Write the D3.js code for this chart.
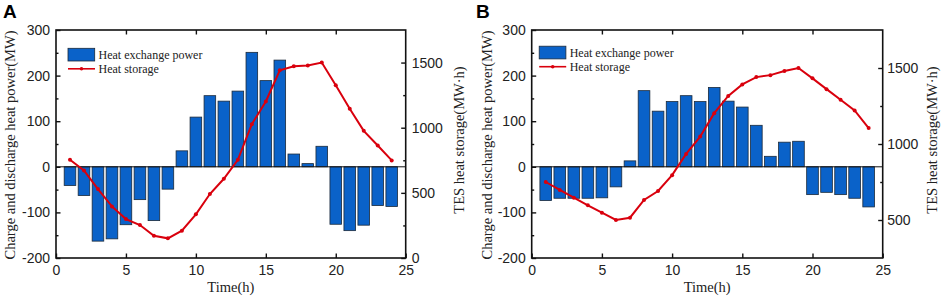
<!DOCTYPE html>
<html lang="en">
<head>
  <meta charset="UTF-8">
  <title>Heat exchange power and TES heat storage</title>
  <script src="https://d3js.org/d3.v7.min.js"></script>
  <style>
    body {
      margin: 0;
      background: #fff;
    }
    svg {
      display: block;
      font-family: "Times New Roman", "Liberation Serif", serif;
    }
    .tick text {
      font-size: 14px;
      fill: #222;
    }
  </style>
</head>
<body>
  <svg id="chart" width="941" height="299"></svg>

  <script>
    const svg = d3.select("#chart");

    // hours of the day
    const hours = [1, 2, 3, 4, 5, 6, 7, 8, 9, 10, 11, 12, 13, 14, 15, 16, 17, 18, 19, 20, 21, 22, 23, 24];

    // panel A
    const powerA = [-41, -63, -163, -158, -127, -72, -118, -49, 35, 109, 156, 144, 166, 251, 189, 234,
                    28, 7, 45, -126, -140, -128, -85, -87];
    const storageA = [754, 672, 529, 396, 299, 253, 171, 151, 210, 335, 491, 608, 754, 1027, 1201, 1441,
                      1472, 1477, 1500, 1326, 1145, 976, 864, 749];

    // panel B
    const powerB = [-74, -69, -69, -69, -68, -44, 13, 167, 122, 143, 156, 143, 174, 144, 131, 91,
                    23, 54, 56, -61, -56, -61, -69, -88];
    const storageB = [750, 698, 647, 597, 548, 500, 515, 632, 691, 795, 935, 1049, 1203, 1316, 1392, 1440,
                      1453, 1480, 1500, 1432, 1361, 1291, 1221, 1105];

    // axis ticks
    const timeTicks = [0, 5, 10, 15, 20, 25];
    const powerTicks = [-200, -100, 0, 100, 200, 300];
    const powerMinor = [-150, -50, 50, 150, 250];
    const storageTicksA = [0, 500, 1000, 1500];
    const storageMinorA = [250, 750, 1250];
    const storageTicksB = [500, 1000, 1500];
    const storageMinorB = [750, 1250];

    const legendNames = ["Heat exchange power", "Heat storage"];

    const barColor = "#0a62c9";
    const lineColor = "#d9000d";
    const plotTop = 30, plotBottom = 258;

    function drawPanel(p) {
      const g = svg.append("g");
      const x = d3.scaleLinear().domain([0, 25]).range([p.left, p.right]);
      const y = d3.scaleLinear().domain([-200, 300]).range([plotBottom, plotTop]);
      const y2 = d3.scaleLinear().domain(p.storageDomain).range([plotBottom, plotTop]);

      // bars
      const bw = (x(1) - x(0)) * 0.83;
      g.append("g")
        .selectAll("rect")
        .data(hours)
        .enter().append("rect")
        .attr("x", (h) => x(h) - bw / 2)
        .attr("width", bw)
        .attr("y", (h, i) => Math.min(y(0), y(p.power[i])))
        .attr("height", (h, i) => Math.abs(y(p.power[i]) - y(0)))
        .attr("fill", barColor)
        .attr("stroke", "#1b2a3a")
        .attr("stroke-width", 0.8);

      // zero line
      g.append("line")
        .attr("x1", p.left).attr("x2", p.right)
        .attr("y1", y(0)).attr("y2", y(0))
        .attr("stroke", "#111")
        .attr("stroke-width", 1);

      // storage line
      const line = d3.line()
        .x((h) => x(h))
        .y((h, i) => y2(p.storage[i]));
      g.append("path")
        .datum(hours)
        .attr("d", line)
        .attr("fill", "none")
        .attr("stroke", lineColor)
        .attr("stroke-width", 2);
      g.append("g")
        .selectAll("circle")
        .data(hours)
        .enter().append("circle")
        .attr("cx", (h) => x(h))
        .attr("cy", (h, i) => y2(p.storage[i]))
        .attr("r", 2)
        .attr("fill", lineColor);

      // axes, ticks pointing inwards
      const fmt = (d) => (d < 0 ? "-" : "") + Math.abs(d);
      const axes = [
        [d3.axisBottom(x).tickValues(timeTicks).tickFormat(fmt).tickSize(-4.5).tickPadding(7), `translate(0,${plotBottom})`],
        [d3.axisTop(x).tickValues(timeTicks.slice(1, -1)).tickFormat("").tickSize(-4.5), `translate(0,${plotTop})`],
        [d3.axisLeft(y).tickValues(powerTicks).tickFormat(fmt).tickSize(-4.5).tickPadding(6), `translate(${p.left},0)`],
        [d3.axisLeft(y).tickValues(powerMinor).tickFormat("").tickSize(-2.5), `translate(${p.left},0)`],
        [d3.axisRight(y2).tickValues(p.storageTicks).tickFormat(fmt).tickSize(-4.5).tickPadding(p.rightPad), `translate(${p.right},0)`],
        [d3.axisRight(y2).tickValues(p.storageMinor).tickFormat("").tickSize(-2.5), `translate(${p.right},0)`]
      ];
      axes.forEach(([ax, tr]) => {
        const a = g.append("g").attr("transform", tr).call(ax.tickSizeOuter(0));
        a.select(".domain").remove();
        a.selectAll(".tick line").attr("stroke", "#111").attr("stroke-width", 1.4);
        a.selectAll(".tick text").attr("font-family", null).attr("font-size", null);
      });

      // frame
      g.append("rect")
        .attr("x", p.left).attr("y", plotTop)
        .attr("width", p.right - p.left).attr("height", plotBottom - plotTop)
        .attr("fill", "none")
        .attr("stroke", "#111")
        .attr("stroke-width", 1.6);

      // titles
      g.append("text")
        .attr("x", (p.left + p.right) / 2).attr("y", 292)
        .attr("text-anchor", "middle")
        .attr("font-size", 14.5).attr("fill", "#222")
        .text("Time(h)");
      g.append("text")
        .attr("transform", `translate(${p.leftTitle},${(plotTop + plotBottom) / 2 + 1}) rotate(-90)`)
        .attr("text-anchor", "middle")
        .attr("font-size", 14.5).attr("fill", "#222")
        .text("Charge and discharge heat power(MW)");
      g.append("text")
        .attr("transform", `translate(${p.rightTitle},${(plotTop + plotBottom) / 2 - 4}) rotate(-90)`)
        .attr("text-anchor", "middle")
        .attr("font-size", 14.5).attr("fill", "#222")
        .text("TES heat storage(MW\u00b7h)");

      // panel letter
      g.append("text")
        .attr("x", p.labelX).attr("y", 18)
        .attr("font-family", "Arial, 'Liberation Sans', sans-serif")
        .attr("font-weight", "bold")
        .attr("font-size", 19)
        .text(p.label);

      // legend
      const lx = p.left + p.legendDx, ly = p.legendY;
      g.append("rect")
        .attr("x", lx).attr("y", ly)
        .attr("width", 26.7).attr("height", 12.7)
        .attr("fill", barColor).attr("stroke", "#1b2a3a").attr("stroke-width", 0.8);
      g.append("text")
        .attr("x", lx + 30.5).attr("y", ly + 10.5)
        .attr("font-size", 12).attr("fill", "#222")
        .text(legendNames[0]);
      g.append("line")
        .attr("x1", lx).attr("x2", lx + 27)
        .attr("y1", ly + 20.5).attr("y2", ly + 20.5)
        .attr("stroke", lineColor).attr("stroke-width", 1.6);
      g.append("circle")
        .attr("cx", lx + 13.5).attr("cy", ly + 20.5).attr("r", 1.8)
        .attr("fill", lineColor);
      g.append("text")
        .attr("x", lx + 30.5).attr("y", ly + 24.5)
        .attr("font-size", 12).attr("fill", "#222")
        .text(legendNames[1]);
    }

    drawPanel({
      label: "A", labelX: 3,
      left: 56, right: 405.7,
      power: powerA, storage: storageA,
      storageDomain: [0, 1750], storageTicks: storageTicksA, storageMinor: storageMinorA,
      rightPad: 6, leftTitle: 15, rightTitle: 464,
      legendDx: 12, legendY: 48.3
    });

    drawPanel({
      label: "B", labelX: 476,
      left: 531.7, right: 882.7,
      power: powerB, storage: storageB,
      storageDomain: [250, 1750], storageTicks: storageTicksB, storageMinor: storageMinorB,
      rightPad: 4.5, leftTitle: 492, rightTitle: 937,
      legendDx: 7.5, legendY: 46.2
    });
  </script>
</body>
</html>
